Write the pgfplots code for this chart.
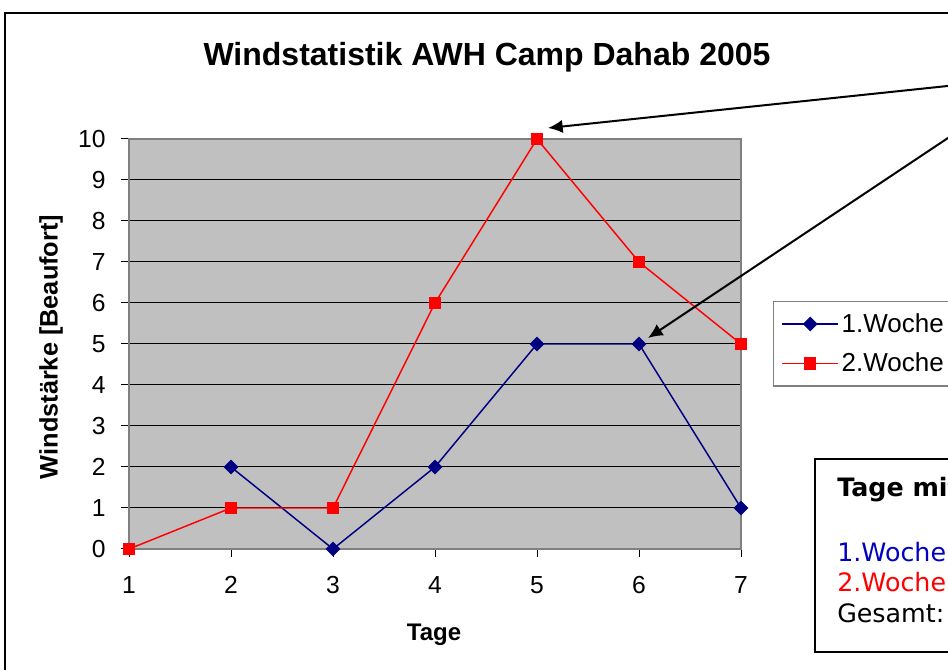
\documentclass[border=0pt]{standalone}
\usepackage{pgfplots}
\pgfplotsset{compat=1.18}
\usepackage{fontspec}
\setmainfont{Liberation Sans}
\newfontfamily\verdana{DejaVu Sans}
\usetikzlibrary{arrows.meta}
\definecolor{plotgray}{RGB}{192,192,192}
\definecolor{boxgray}{RGB}{128,128,128}
\definecolor{wnavy}{RGB}{0,0,128}
\definecolor{txtblue}{RGB}{0,0,190}
\begin{document}
\begin{tikzpicture}[x=0.75pt,y=0.75pt]
\path[use as bounding box] (0,0) rectangle (948,670);
\begin{scope}
\clip (0,0) rectangle (948,670);
\fill[white] (0,0) rectangle (948,670);
\draw[line width=1.5pt] (5,657) rectangle (990,-40);
\node[font=\fontsize{24}{28}\selectfont\bfseries] at (487,613) {Windstatistik AWH Camp Dahab 2005};
\begin{axis}[
  at={(96.75pt,90.75pt)}, anchor=south west,
  scale only axis, width=459pt, height=307.5pt,
  xmin=1, xmax=7, ymin=0, ymax=10,
  xtick={1,...,7}, ytick={0,...,10},
  xtick pos=bottom, ytick pos=left,
  tick align=outside, major tick length=6pt,
  tick style={black, line width=0.75pt},
  ymajorgrids, grid style={black, line width=0.75pt},
  axis background/.style={fill=plotgray},
  axis line style={boxgray, line width=1.5pt},
  ticklabel style={font=\fontsize{18.5}{22}\selectfont},
  /pgf/number format/assume math mode=true,
  xticklabel style={yshift=-11pt},
  yticklabel style={xshift=-8pt},
  clip=false,
  legend style={at={(1.052,0.605)}, anchor=north west, draw=boxgray, line width=1pt, fill=white,
    font=\fontsize{19.5}{22}\selectfont, row sep=10pt, inner xsep=6pt, inner ysep=7pt},
  legend cell align=left,
  legend image code/.code={\draw[mark repeat=2,mark phase=2,#1] plot coordinates {(0pt,0pt)(21pt,0pt)(42pt,0pt)};},
]
\addplot[color=wnavy, line width=1.1pt, mark=square*, mark size=3.4pt, mark options={rotate=45, fill=wnavy, solid}]
  coordinates {(2,2)(3,0)(4,2)(5,5)(6,5)(7,1)};
\addlegendentry{1.Woche\hspace{40pt}}
\addplot[color=red, line width=1.1pt, mark=square*, mark size=4pt, mark options={fill=red, solid}]
  coordinates {(1,0)(2,1)(3,1)(4,6)(5,10)(6,7)(7,5)};
\addlegendentry{2.Woche\hspace{40pt}}
\end{axis}
\node[rotate=90, font=\fontsize{19}{22}\selectfont\bfseries] at (51,323) {Windstärke [Beaufort]};
\node[font=\fontsize{18}{22}\selectfont\bfseries] at (434,35) {Tage};
\draw[line width=1.5pt, fill=white] (815,211) rectangle (990,18);
\node[anchor=base west, inner sep=0pt, font=\verdana\fontsize{19}{22}\selectfont\bfseries] at (837,173) {Tage mit Wind};
\node[anchor=base west, inner sep=0pt, font=\verdana\fontsize{19}{22}\selectfont, text=txtblue] at (837,108) {1.Woche};
\node[anchor=base west, inner sep=0pt, font=\verdana\fontsize{19}{22}\selectfont, text=red] at (837,78) {2.Woche};
\node[anchor=base west, inner sep=0pt, font=\verdana\fontsize{19}{22}\selectfont] at (837,47) {Gesamt:};
\draw[line width=1.5pt, -{Latex[length=11pt,width=10pt]}] (960,585.3) -- (548,542);
\draw[line width=1.5pt, -{Latex[length=11pt,width=10pt]}] (960,540) -- (648,332);
\end{scope}
\end{tikzpicture}
\end{document}
